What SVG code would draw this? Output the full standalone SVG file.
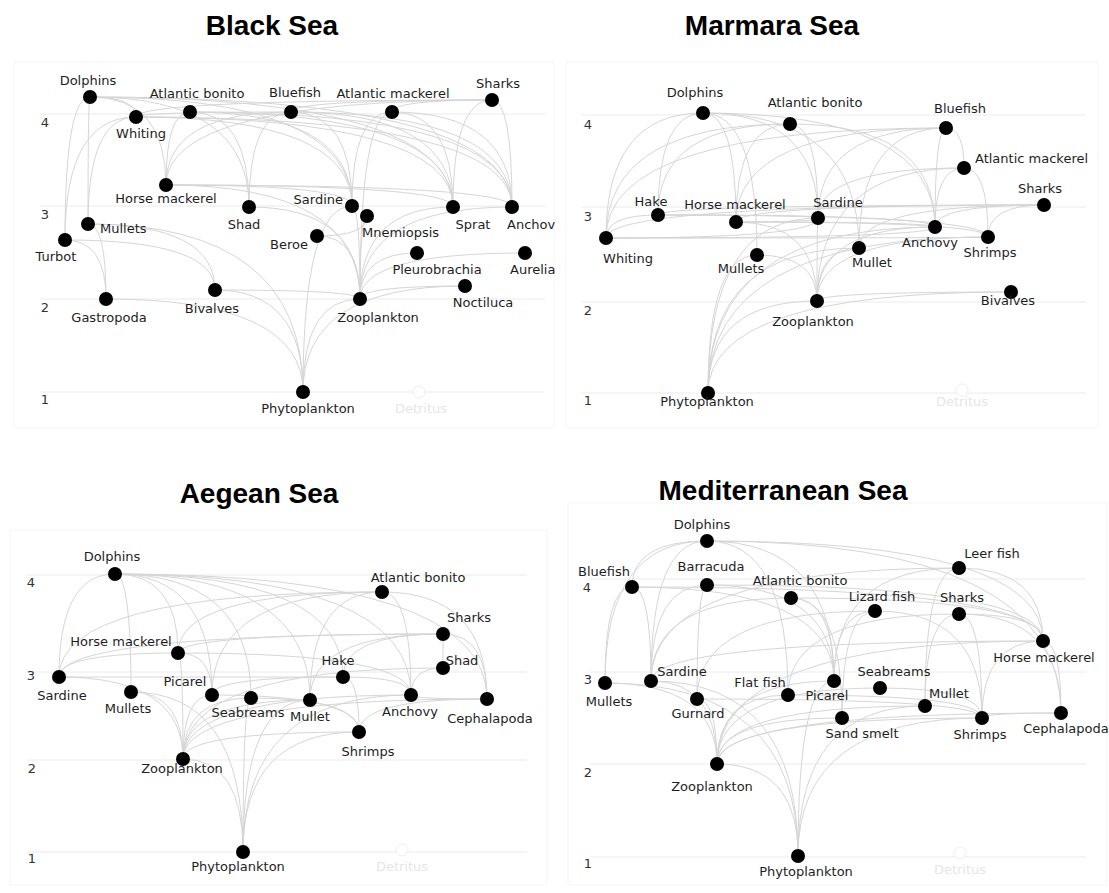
<svg xmlns="http://www.w3.org/2000/svg" width="1109" height="893" viewBox="0 0 1109 893">
<style>
.bg{fill:#fff}
.pan{fill:none;stroke:#f5f5f5;stroke-width:1}
.grid{stroke:#ebebeb;stroke-width:1}
.e{fill:none;stroke:#d6d6d6;stroke-width:1}
.n circle{fill:#000}
.t{font-family:"DejaVu Sans","Liberation Sans",sans-serif;font-size:13px;fill:#1e1e1e;text-anchor:middle}
.s{text-anchor:start}
.en{text-anchor:end}
.ax{font-family:"DejaVu Sans","Liberation Sans",sans-serif;font-size:13px;fill:#333;text-anchor:middle}
.ttl{font-family:"Liberation Sans",Arial,sans-serif;font-size:28px;font-weight:bold;fill:#000;text-anchor:middle}
.det circle{fill:#fff;stroke:#eee}
.det text{fill:#e6e6e6}
</style>
<rect class="bg" x="0" y="0" width="1109" height="893"/>

<!-- Titles -->
<text class="ttl" x="272" y="35">Black Sea</text>
<text class="ttl" x="772" y="35">Marmara Sea</text>
<text class="ttl" x="259" y="503">Aegean Sea</text>
<text class="ttl" x="783" y="500">Mediterranean Sea</text>

<!-- panel frames & grids -->
<g id="frames">
<rect class="pan" x="14" y="62" width="540" height="366"/>
<rect class="pan" x="566" y="62" width="532" height="366"/>
<rect class="pan" x="10" y="530" width="537" height="355"/>
<rect class="pan" x="568" y="503" width="539" height="382"/>
</g>
<g id="grids">
<line class="grid" x1="40" y1="114" x2="545" y2="114"/>
<line class="grid" x1="40" y1="206" x2="545" y2="206"/>
<line class="grid" x1="40" y1="299" x2="545" y2="299"/>
<line class="grid" x1="40" y1="392" x2="545" y2="392"/>
<line class="grid" x1="582" y1="115" x2="1086" y2="115"/>
<line class="grid" x1="582" y1="207" x2="1086" y2="207"/>
<line class="grid" x1="582" y1="302" x2="1086" y2="302"/>
<line class="grid" x1="582" y1="393" x2="1086" y2="393"/>
<line class="grid" x1="27" y1="575" x2="527" y2="575"/>
<line class="grid" x1="27" y1="672" x2="527" y2="672"/>
<line class="grid" x1="27" y1="760" x2="527" y2="760"/>
<line class="grid" x1="27" y1="852" x2="527" y2="852"/>
<line class="grid" x1="590" y1="579" x2="1086" y2="579"/>
<line class="grid" x1="590" y1="672" x2="1086" y2="672"/>
<line class="grid" x1="590" y1="764" x2="1086" y2="764"/>
<line class="grid" x1="590" y1="857" x2="1086" y2="857"/>
<text class="ax" x="45" y="127">4</text><text class="ax" x="45" y="219">3</text><text class="ax" x="45" y="312">2</text><text class="ax" x="45" y="404">1</text>
<text class="ax" x="588" y="129">4</text><text class="ax" x="588" y="221">3</text><text class="ax" x="588" y="315">2</text><text class="ax" x="588" y="405">1</text>
<text class="ax" x="31" y="587">4</text><text class="ax" x="31" y="680">3</text><text class="ax" x="32" y="773">2</text><text class="ax" x="32" y="863">1</text>
<text class="ax" x="587" y="592">4</text><text class="ax" x="588" y="684">3</text><text class="ax" x="588" y="777">2</text><text class="ax" x="588" y="868">1</text>
</g>

<g id="connectors">
<!-- Black Sea -->
<path class="e" d="M90 97Q136 97 136 117"/>
<path class="e" d="M90 97Q166 97 166 185"/>
<path class="e" d="M90 97Q65 97 65 240"/>
<path class="e" d="M90 97Q88 97 88 224"/>
<path class="e" d="M90 97Q249 97 249 207"/>
<path class="e" d="M90 97Q352 97 352 206"/>
<path class="e" d="M90 97Q453 97 453 207"/>
<path class="e" d="M90 97Q512 97 512 207"/>
<path class="e" d="M136 117Q65 117 65 240"/>
<path class="e" d="M136 117Q88 117 88 224"/>
<path class="e" d="M136 117Q352 117 352 206"/>
<path class="e" d="M136 117Q453 117 453 207"/>
<path class="e" d="M136 117Q512 117 512 207"/>
<path class="e" d="M190 112Q166 112 166 185"/>
<path class="e" d="M190 112Q249 112 249 207"/>
<path class="e" d="M190 112Q352 112 352 206"/>
<path class="e" d="M190 112Q453 112 453 207"/>
<path class="e" d="M190 112Q512 112 512 207"/>
<path class="e" d="M291 112Q136 112 136 117"/>
<path class="e" d="M291 112Q166 112 166 185"/>
<path class="e" d="M291 112Q249 112 249 207"/>
<path class="e" d="M291 112Q352 112 352 206"/>
<path class="e" d="M291 112Q453 112 453 207"/>
<path class="e" d="M291 112Q512 112 512 207"/>
<path class="e" d="M392 112Q352 112 352 206"/>
<path class="e" d="M392 112Q453 112 453 207"/>
<path class="e" d="M392 112Q512 112 512 207"/>
<path class="e" d="M392 112Q360 112 360 299"/>
<path class="e" d="M492 100Q136 100 136 117"/>
<path class="e" d="M492 100Q166 100 166 185"/>
<path class="e" d="M492 100Q291 100 291 112"/>
<path class="e" d="M492 100Q392 100 392 112"/>
<path class="e" d="M492 100Q453 100 453 207"/>
<path class="e" d="M492 100Q512 100 512 207"/>
<path class="e" d="M166 185Q352 185 352 206"/>
<path class="e" d="M166 185Q453 185 453 207"/>
<path class="e" d="M166 185Q512 185 512 207"/>
<path class="e" d="M166 185Q360 185 360 299"/>
<path class="e" d="M249 207Q360 207 360 299"/>
<path class="e" d="M352 206Q360 206 360 299"/>
<path class="e" d="M352 206Q303 206 303 392"/>
<path class="e" d="M367 216Q360 216 360 299"/>
<path class="e" d="M453 207Q360 207 360 299"/>
<path class="e" d="M512 207Q360 207 360 299"/>
<path class="e" d="M317 236Q367 236 367 216"/>
<path class="e" d="M317 236Q360 236 360 299"/>
<path class="e" d="M88 224Q106 224 106 299"/>
<path class="e" d="M88 224Q215 224 215 290"/>
<path class="e" d="M88 224Q303 224 303 392"/>
<path class="e" d="M65 240Q106 240 106 299"/>
<path class="e" d="M65 240Q215 240 215 290"/>
<path class="e" d="M417 253Q360 253 360 299"/>
<path class="e" d="M525 253Q360 253 360 299"/>
<path class="e" d="M465 286Q360 286 360 299"/>
<path class="e" d="M465 286Q303 286 303 392"/>
<path class="e" d="M106 299Q303 299 303 392"/>
<path class="e" d="M215 290Q360 290 360 299"/>
<path class="e" d="M215 290Q303 290 303 392"/>
<path class="e" d="M360 299Q303 299 303 392"/>
<!-- Marmara Sea -->
<path class="e" d="M703 113Q658 113 658 215"/>
<path class="e" d="M703 113Q736 113 736 222"/>
<path class="e" d="M703 113Q606 113 606 238"/>
<path class="e" d="M703 113Q818 113 818 218"/>
<path class="e" d="M703 113Q935 113 935 227"/>
<path class="e" d="M703 113Q757 113 757 255"/>
<path class="e" d="M703 113Q859 113 859 248"/>
<path class="e" d="M790 124Q658 124 658 215"/>
<path class="e" d="M790 124Q736 124 736 222"/>
<path class="e" d="M790 124Q818 124 818 218"/>
<path class="e" d="M790 124Q935 124 935 227"/>
<path class="e" d="M790 124Q606 124 606 238"/>
<path class="e" d="M946 128Q964 128 964 168"/>
<path class="e" d="M946 128Q736 128 736 222"/>
<path class="e" d="M946 128Q818 128 818 218"/>
<path class="e" d="M946 128Q935 128 935 227"/>
<path class="e" d="M946 128Q606 128 606 238"/>
<path class="e" d="M946 128Q859 128 859 248"/>
<path class="e" d="M964 168Q935 168 935 227"/>
<path class="e" d="M964 168Q818 168 818 218"/>
<path class="e" d="M964 168Q988 168 988 237"/>
<path class="e" d="M964 168Q817 168 817 301"/>
<path class="e" d="M1044 205Q606 205 606 238"/>
<path class="e" d="M1044 205Q658 205 658 215"/>
<path class="e" d="M1044 205Q736 205 736 222"/>
<path class="e" d="M1044 205Q935 205 935 227"/>
<path class="e" d="M1044 205Q988 205 988 237"/>
<path class="e" d="M1044 205Q859 205 859 248"/>
<path class="e" d="M658 215Q606 215 606 238"/>
<path class="e" d="M658 215Q935 215 935 227"/>
<path class="e" d="M658 215Q818 215 818 218"/>
<path class="e" d="M658 215Q988 215 988 237"/>
<path class="e" d="M736 222Q935 222 935 227"/>
<path class="e" d="M736 222Q818 222 818 218"/>
<path class="e" d="M736 222Q988 222 988 237"/>
<path class="e" d="M736 222Q817 222 817 301"/>
<path class="e" d="M606 238Q935 238 935 227"/>
<path class="e" d="M606 238Q988 238 988 237"/>
<path class="e" d="M606 238Q818 238 818 218"/>
<path class="e" d="M818 218Q817 218 817 301"/>
<path class="e" d="M818 218Q708 218 708 393"/>
<path class="e" d="M757 255Q817 255 817 301"/>
<path class="e" d="M757 255Q708 255 708 393"/>
<path class="e" d="M935 227Q817 227 817 301"/>
<path class="e" d="M935 227Q708 227 708 393"/>
<path class="e" d="M988 237Q817 237 817 301"/>
<path class="e" d="M988 237Q708 237 708 393"/>
<path class="e" d="M859 248Q817 248 817 301"/>
<path class="e" d="M859 248Q708 248 708 393"/>
<path class="e" d="M1011 292Q817 292 817 301"/>
<path class="e" d="M1011 292Q708 292 708 393"/>
<path class="e" d="M817 301Q708 301 708 393"/>
<!-- Aegean Sea -->
<path class="e" d="M115 574Q59 574 59 677"/>
<path class="e" d="M115 574Q178 574 178 653"/>
<path class="e" d="M115 574Q131 574 131 692"/>
<path class="e" d="M115 574Q212 574 212 695"/>
<path class="e" d="M115 574Q251 574 251 698"/>
<path class="e" d="M115 574Q310 574 310 700"/>
<path class="e" d="M115 574Q343 574 343 677"/>
<path class="e" d="M115 574Q411 574 411 695"/>
<path class="e" d="M115 574Q487 574 487 699"/>
<path class="e" d="M382 592Q59 592 59 677"/>
<path class="e" d="M382 592Q178 592 178 653"/>
<path class="e" d="M382 592Q212 592 212 695"/>
<path class="e" d="M382 592Q310 592 310 700"/>
<path class="e" d="M382 592Q411 592 411 695"/>
<path class="e" d="M382 592Q487 592 487 699"/>
<path class="e" d="M443 634L443 668"/>
<path class="e" d="M443 634Q343 634 343 677"/>
<path class="e" d="M443 634Q178 634 178 653"/>
<path class="e" d="M443 634Q59 634 59 677"/>
<path class="e" d="M443 634Q310 634 310 700"/>
<path class="e" d="M443 634Q487 634 487 699"/>
<path class="e" d="M443 668Q411 668 411 695"/>
<path class="e" d="M443 668Q183 668 183 759"/>
<path class="e" d="M178 653Q59 653 59 677"/>
<path class="e" d="M178 653Q212 653 212 695"/>
<path class="e" d="M178 653Q411 653 411 695"/>
<path class="e" d="M178 653Q183 653 183 759"/>
<path class="e" d="M343 677L59 677"/>
<path class="e" d="M343 677Q212 677 212 695"/>
<path class="e" d="M343 677Q411 677 411 695"/>
<path class="e" d="M343 677Q359 677 359 732"/>
<path class="e" d="M59 677Q183 677 183 759"/>
<path class="e" d="M131 692Q183 692 183 759"/>
<path class="e" d="M131 692Q243 692 243 852"/>
<path class="e" d="M212 695Q183 695 183 759"/>
<path class="e" d="M212 695Q359 695 359 732"/>
<path class="e" d="M251 698Q183 698 183 759"/>
<path class="e" d="M251 698Q359 698 359 732"/>
<path class="e" d="M251 698Q243 698 243 852"/>
<path class="e" d="M310 700Q183 700 183 759"/>
<path class="e" d="M310 700Q243 700 243 852"/>
<path class="e" d="M411 695Q183 695 183 759"/>
<path class="e" d="M411 695Q243 695 243 852"/>
<path class="e" d="M487 699Q411 699 411 695"/>
<path class="e" d="M487 699Q359 699 359 732"/>
<path class="e" d="M487 699Q183 699 183 759"/>
<path class="e" d="M359 732Q183 732 183 759"/>
<path class="e" d="M359 732Q243 732 243 852"/>
<path class="e" d="M183 759Q243 759 243 852"/>
<!-- Mediterranean Sea -->
<path class="e" d="M707 541Q632 541 632 587"/>
<path class="e" d="M707 541Q651 541 651 681"/>
<path class="e" d="M707 541Q605 541 605 683"/>
<path class="e" d="M707 541Q788 541 788 695"/>
<path class="e" d="M707 541Q834 541 834 681"/>
<path class="e" d="M707 541Q1043 541 1043 641"/>
<path class="e" d="M707 541Q1061 541 1061 713"/>
<path class="e" d="M632 587Q651 587 651 681"/>
<path class="e" d="M632 587Q605 587 605 683"/>
<path class="e" d="M632 587Q834 587 834 681"/>
<path class="e" d="M632 587Q1043 587 1043 641"/>
<path class="e" d="M707 585Q651 585 651 681"/>
<path class="e" d="M707 585Q697 585 697 699"/>
<path class="e" d="M707 585Q834 585 834 681"/>
<path class="e" d="M707 585Q1043 585 1043 641"/>
<path class="e" d="M791 598Q651 598 651 681"/>
<path class="e" d="M791 598Q834 598 834 681"/>
<path class="e" d="M791 598Q842 598 842 718"/>
<path class="e" d="M791 598Q1043 598 1043 641"/>
<path class="e" d="M959 568Q1043 568 1043 641"/>
<path class="e" d="M959 568Q651 568 651 681"/>
<path class="e" d="M959 568Q925 568 925 706"/>
<path class="e" d="M959 568Q834 568 834 681"/>
<path class="e" d="M875 611Q834 611 834 681"/>
<path class="e" d="M875 611Q842 611 842 718"/>
<path class="e" d="M875 611Q982 611 982 718"/>
<path class="e" d="M875 611Q697 611 697 699"/>
<path class="e" d="M959 614Q1043 614 1043 641"/>
<path class="e" d="M959 614Q1061 614 1061 713"/>
<path class="e" d="M959 614Q925 614 925 706"/>
<path class="e" d="M959 614Q982 614 982 718"/>
<path class="e" d="M959 614Q788 614 788 695"/>
<path class="e" d="M1043 641Q651 641 651 681"/>
<path class="e" d="M1043 641Q982 641 982 718"/>
<path class="e" d="M1043 641Q1061 641 1061 713"/>
<path class="e" d="M1043 641Q717 641 717 764"/>
<path class="e" d="M605 683Q717 683 717 764"/>
<path class="e" d="M605 683Q798 683 798 856"/>
<path class="e" d="M651 681Q717 681 717 764"/>
<path class="e" d="M651 681Q798 681 798 856"/>
<path class="e" d="M697 699Q717 699 717 764"/>
<path class="e" d="M697 699Q982 699 982 718"/>
<path class="e" d="M788 695Q717 695 717 764"/>
<path class="e" d="M788 695Q982 695 982 718"/>
<path class="e" d="M834 681Q717 681 717 764"/>
<path class="e" d="M834 681Q798 681 798 856"/>
<path class="e" d="M880 688Q982 688 982 718"/>
<path class="e" d="M880 688Q717 688 717 764"/>
<path class="e" d="M842 718Q717 718 717 764"/>
<path class="e" d="M925 706Q717 706 717 764"/>
<path class="e" d="M925 706Q798 706 798 856"/>
<path class="e" d="M982 718Q717 718 717 764"/>
<path class="e" d="M982 718Q798 718 798 856"/>
<path class="e" d="M1061 713Q982 713 982 718"/>
<path class="e" d="M1061 713Q717 713 717 764"/>
<path class="e" d="M717 764Q798 764 798 856"/>
</g>

<!-- Black Sea nodes -->
<g id="bs-dolphins" class="n"><circle cx="90" cy="97" r="7"/><text class="t" x="88" y="85">Dolphins</text></g>
<g id="bs-whiting" class="n"><circle cx="136" cy="117" r="7"/><text class="t" x="141" y="138">Whiting</text></g>
<g id="bs-atlantic-bonito" class="n"><circle cx="190" cy="112" r="7"/><text class="t" x="197" y="98">Atlantic bonito</text></g>
<g id="bs-bluefish" class="n"><circle cx="291" cy="112" r="7"/><text class="t" x="295" y="97">Bluefish</text></g>
<g id="bs-atlantic-mackerel" class="n"><circle cx="392" cy="112" r="7"/><text class="t" x="393" y="98">Atlantic mackerel</text></g>
<g id="bs-sharks" class="n"><circle cx="492" cy="100" r="7"/><text class="t" x="498" y="88">Sharks</text></g>
<g id="bs-horse-mackerel" class="n"><circle cx="166" cy="185" r="7"/><text class="t" x="166" y="203">Horse mackerel</text></g>
<g id="bs-shad" class="n"><circle cx="249" cy="207" r="7"/><text class="t" x="244" y="229">Shad</text></g>
<g id="bs-sardine" class="n"><circle cx="352" cy="206" r="7"/><text class="t en" x="343" y="204">Sardine</text></g>
<g id="bs-mnemiopsis" class="n"><circle cx="367" cy="216" r="7"/><text class="t s" x="362" y="237">Mnemiopsis</text></g>
<g id="bs-sprat" class="n"><circle cx="453" cy="207" r="7"/><text class="t" x="473" y="229">Sprat</text></g>
<g id="bs-anchovy" class="n"><circle cx="512" cy="207" r="7"/><text class="t s" x="507" y="229">Anchov</text></g>
<g id="bs-mullets" class="n"><circle cx="88" cy="224" r="7"/><text class="t s" x="100" y="233">Mullets</text></g>
<g id="bs-turbot" class="n"><circle cx="65" cy="240" r="7"/><text class="t" x="56" y="261">Turbot</text></g>
<g id="bs-beroe" class="n"><circle cx="317" cy="236" r="7"/><text class="t en" x="308" y="249">Beroe</text></g>
<g id="bs-pleurobrachia" class="n"><circle cx="417" cy="253" r="7"/><text class="t" x="437" y="274">Pleurobrachia</text></g>
<g id="bs-aurelia" class="n"><circle cx="525" cy="253" r="7"/><text class="t s" x="510" y="274">Aurelia</text></g>
<g id="bs-noctiluca" class="n"><circle cx="465" cy="286" r="7"/><text class="t" x="483" y="307">Noctiluca</text></g>
<g id="bs-gastropoda" class="n"><circle cx="106" cy="299" r="7"/><text class="t" x="109" y="322">Gastropoda</text></g>
<g id="bs-bivalves" class="n"><circle cx="215" cy="290" r="7"/><text class="t" x="212" y="313">Bivalves</text></g>
<g id="bs-zooplankton" class="n"><circle cx="360" cy="299" r="7"/><text class="t" x="378" y="322">Zooplankton</text></g>
<g id="bs-phytoplankton" class="n"><circle cx="303" cy="392" r="7"/><text class="t" x="308" y="413">Phytoplankton</text></g>
<g id="bs-detritus" class="det"><circle cx="419" cy="392" r="6"/><text class="t" x="421" y="413">Detritus</text></g>

<!-- Marmara Sea nodes -->
<g id="ms-dolphins" class="n"><circle cx="703" cy="113" r="7"/><text class="t" x="695" y="97">Dolphins</text></g>
<g id="ms-atlantic-bonito" class="n"><circle cx="790" cy="124" r="7"/><text class="t" x="815" y="107">Atlantic bonito</text></g>
<g id="ms-bluefish" class="n"><circle cx="946" cy="128" r="7"/><text class="t" x="960" y="113">Bluefish</text></g>
<g id="ms-atlantic-mackerel" class="n"><circle cx="964" cy="168" r="7"/><text class="t s" x="975" y="163">Atlantic mackerel</text></g>
<g id="ms-sharks" class="n"><circle cx="1044" cy="205" r="7"/><text class="t" x="1040" y="193">Sharks</text></g>
<g id="ms-hake" class="n"><circle cx="658" cy="215" r="7"/><text class="t" x="651" y="206">Hake</text></g>
<g id="ms-horse-mackerel" class="n"><circle cx="736" cy="222" r="7"/><text class="t" x="735" y="209">Horse mackerel</text></g>
<g id="ms-sardine" class="n"><circle cx="818" cy="218" r="7"/><text class="t" x="838" y="207">Sardine</text></g>
<g id="ms-whiting" class="n"><circle cx="606" cy="238" r="7"/><text class="t" x="628" y="263">Whiting</text></g>
<g id="ms-mullets" class="n"><circle cx="757" cy="255" r="7"/><text class="t" x="741" y="273">Mullets</text></g>
<g id="ms-anchovy" class="n"><circle cx="935" cy="227" r="7"/><text class="t" x="930" y="247">Anchovy</text></g>
<g id="ms-shrimps" class="n"><circle cx="988" cy="237" r="7"/><text class="t" x="990" y="257">Shrimps</text></g>
<g id="ms-mullet" class="n"><circle cx="859" cy="248" r="7"/><text class="t" x="872" y="267">Mullet</text></g>
<g id="ms-bivalves" class="n"><circle cx="1011" cy="292" r="7"/><text class="t" x="1008" y="305">Bivalves</text></g>
<g id="ms-zooplankton" class="n"><circle cx="817" cy="301" r="7"/><text class="t" x="813" y="326">Zooplankton</text></g>
<g id="ms-phytoplankton" class="n"><circle cx="708" cy="393" r="7"/><text class="t" x="707" y="406">Phytoplankton</text></g>
<g id="ms-detritus" class="det"><circle cx="962" cy="390" r="6"/><text class="t" x="962" y="406">Detritus</text></g>

<!-- Aegean Sea nodes -->
<g id="as-dolphins" class="n"><circle cx="115" cy="574" r="7"/><text class="t" x="112" y="561">Dolphins</text></g>
<g id="as-atlantic-bonito" class="n"><circle cx="382" cy="592" r="7"/><text class="t" x="418" y="582">Atlantic bonito</text></g>
<g id="as-sharks" class="n"><circle cx="443" cy="634" r="7"/><text class="t" x="469" y="622">Sharks</text></g>
<g id="as-shad" class="n"><circle cx="443" cy="668" r="7"/><text class="t" x="462" y="665">Shad</text></g>
<g id="as-horse-mackerel" class="n"><circle cx="178" cy="653" r="7"/><text class="t" x="121" y="646">Horse mackerel</text></g>
<g id="as-hake" class="n"><circle cx="343" cy="677" r="7"/><text class="t" x="338" y="665">Hake</text></g>
<g id="as-sardine" class="n"><circle cx="59" cy="677" r="7"/><text class="t" x="62" y="700">Sardine</text></g>
<g id="as-mullets" class="n"><circle cx="131" cy="692" r="7"/><text class="t" x="128" y="713">Mullets</text></g>
<g id="as-picarel" class="n"><circle cx="212" cy="695" r="7"/><text class="t" x="185" y="686">Picarel</text></g>
<g id="as-seabreams" class="n"><circle cx="251" cy="698" r="7"/><text class="t" x="248" y="717">Seabreams</text></g>
<g id="as-mullet" class="n"><circle cx="310" cy="700" r="7"/><text class="t" x="310" y="721">Mullet</text></g>
<g id="as-anchovy" class="n"><circle cx="411" cy="695" r="7"/><text class="t" x="410" y="716">Anchovy</text></g>
<g id="as-cephalapoda" class="n"><circle cx="487" cy="699" r="7"/><text class="t" x="490" y="723">Cephalapoda</text></g>
<g id="as-shrimps" class="n"><circle cx="359" cy="732" r="7"/><text class="t" x="368" y="756">Shrimps</text></g>
<g id="as-zooplankton" class="n"><circle cx="183" cy="759" r="7"/><text class="t" x="182" y="773">Zooplankton</text></g>
<g id="as-phytoplankton" class="n"><circle cx="243" cy="852" r="7"/><text class="t" x="238" y="871">Phytoplankton</text></g>
<g id="as-detritus" class="det"><circle cx="402" cy="850" r="6"/><text class="t" x="402" y="871">Detritus</text></g>

<!-- Mediterranean Sea nodes -->
<g id="md-dolphins" class="n"><circle cx="707" cy="541" r="7"/><text class="t" x="702" y="529">Dolphins</text></g>
<g id="md-barracuda" class="n"><circle cx="707" cy="585" r="7"/><text class="t" x="711" y="571">Barracuda</text></g>
<g id="md-bluefish" class="n"><circle cx="632" cy="587" r="7"/><text class="t" x="604" y="576">Bluefish</text></g>
<g id="md-atlantic-bonito" class="n"><circle cx="791" cy="598" r="7"/><text class="t" x="800" y="585">Atlantic bonito</text></g>
<g id="md-leer-fish" class="n"><circle cx="959" cy="568" r="7"/><text class="t" x="992" y="558">Leer fish</text></g>
<g id="md-lizard-fish" class="n"><circle cx="875" cy="611" r="7"/><text class="t" x="882" y="601">Lizard fish</text></g>
<g id="md-sharks" class="n"><circle cx="959" cy="614" r="7"/><text class="t" x="962" y="602">Sharks</text></g>
<g id="md-horse-mackerel" class="n"><circle cx="1043" cy="641" r="7"/><text class="t" x="1044" y="662">Horse mackerel</text></g>
<g id="md-mullets" class="n"><circle cx="605" cy="683" r="7"/><text class="t" x="609" y="706">Mullets</text></g>
<g id="md-sardine" class="n"><circle cx="651" cy="681" r="7"/><text class="t" x="682" y="676">Sardine</text></g>
<g id="md-gurnard" class="n"><circle cx="697" cy="699" r="7"/><text class="t" x="698" y="718">Gurnard</text></g>
<g id="md-flat-fish" class="n"><circle cx="788" cy="695" r="7"/><text class="t" x="760" y="687">Flat fish</text></g>
<g id="md-picarel" class="n"><circle cx="834" cy="681" r="7"/><text class="t" x="827" y="700">Picarel</text></g>
<g id="md-seabreams" class="n"><circle cx="880" cy="688" r="7"/><text class="t" x="894" y="676">Seabreams</text></g>
<g id="md-sand-smelt" class="n"><circle cx="842" cy="718" r="7"/><text class="t" x="862" y="738">Sand smelt</text></g>
<g id="md-mullet" class="n"><circle cx="925" cy="706" r="7"/><text class="t" x="949" y="698">Mullet</text></g>
<g id="md-shrimps" class="n"><circle cx="982" cy="718" r="7"/><text class="t" x="980" y="739">Shrimps</text></g>
<g id="md-cephalapoda" class="n"><circle cx="1061" cy="713" r="7"/><text class="t" x="1066" y="733">Cephalapoda</text></g>
<g id="md-zooplankton" class="n"><circle cx="717" cy="764" r="7"/><text class="t" x="712" y="791">Zooplankton</text></g>
<g id="md-phytoplankton" class="n"><circle cx="798" cy="856" r="7"/><text class="t" x="806" y="876">Phytoplankton</text></g>
<g id="md-detritus" class="det"><circle cx="960" cy="853" r="6"/><text class="t" x="960" y="874">Detritus</text></g>
</svg>
